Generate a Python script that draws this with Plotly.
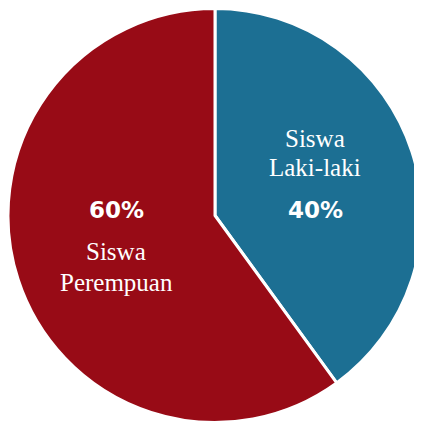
import plotly.graph_objects as go

labels = ["Siswa Laki-laki", "Siswa Perempuan"]
values = [40, 60]
colors = ["#1C6F93", "#980B16"]
pct_text = ["40%", "60%"]
name_lines = [["Siswa", "Laki-laki"], ["Siswa", "Perempuan"]]

W, H = 414, 415
OFF = 8  # page body margin offset

fig = go.Figure(go.Pie(
    labels=labels,
    values=values,
    sort=False,
    direction="clockwise",
    rotation=0,
    marker=dict(colors=colors, line=dict(color="white", width=3)),
    textinfo="none",
    hoverinfo="label+percent",
    domain=dict(x=[0, 1], y=[0, 1]),
    showlegend=False,
))

serif = dict(family="Liberation Serif, Times New Roman, serif", size=25, color="white")
sans = dict(family="DejaVu Sans, sans-serif", size=23, color="white")

# pixel centres of text blocks (x, y of each line) in screen coords
pos = {
    0: dict(x=315, lines_y=[138, 167], pct_y=210),
    1: dict(x=116, lines_y=[251, 282], pct_y=210),
}

ann = []
for i in range(len(labels)):
    p = pos[i]
    for line, yy in zip(name_lines[i], p["lines_y"]):
        ann.append(dict(x=(p["x"] - OFF) / W, y=1 - (yy - OFF) / H, xref="paper", yref="paper",
                        text=line, showarrow=False, font=serif,
                        xanchor="center", yanchor="middle"))
    ann.append(dict(x=(p["x"] - OFF) / W, y=1 - (p["pct_y"] - OFF) / H, xref="paper", yref="paper",
                    text="<b>" + pct_text[i] + "</b>", showarrow=False, font=sans,
                    xanchor="center", yanchor="middle"))

fig.update_layout(
    width=W, height=H,
    margin=dict(l=0, r=0, t=0, b=0),
    paper_bgcolor="white",
    plot_bgcolor="white",
    annotations=ann,
)

fig.write_html("out.html")
